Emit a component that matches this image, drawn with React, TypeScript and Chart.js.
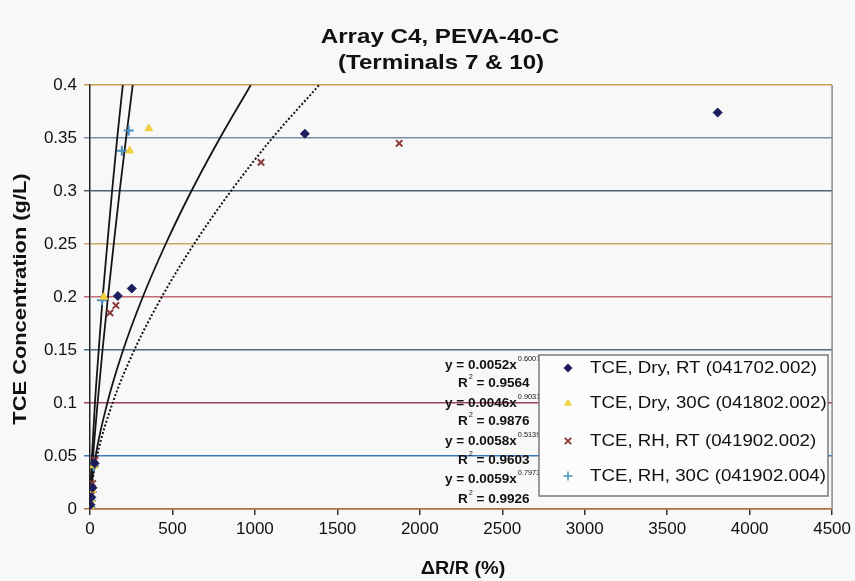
import React, { useEffect, useRef } from 'react';
import { Chart, registerables } from 'chart.js';

Chart.register(...registerables);

// ---------- data ----------
const seriesNames = [
  'TCE, Dry, RT (041702.002)',
  'TCE, Dry, 30C (041802.002)',
  'TCE, RH, RT (041902.002)',
  'TCE, RH, 30C (041902.004)',
];

const dryRtX = [3, 8, 15, 28, 169, 253, 1303, 3806];
const dryRtY = [0.004, 0.011, 0.02, 0.043, 0.201, 0.208, 0.354, 0.374];

const dry30X = [2, 6, 12, 25, 84, 241, 356];
const dry30Y = [0.003, 0.009, 0.018, 0.041, 0.2, 0.338, 0.359];

const rhRtX = [4, 9, 16, 30, 121, 157, 1037, 1875];
const rhRtY = [0.005, 0.013, 0.024, 0.046, 0.185, 0.192, 0.327, 0.345];

const rh30X = [2, 5, 10, 22, 72, 193, 235];
const rh30Y = [0.002, 0.008, 0.016, 0.04, 0.197, 0.338, 0.357];

// trendline traces (x at each concentration level)
const trendLevels = [0, 0.01, 0.02, 0.05, 0.1, 0.15, 0.2, 0.25, 0.3, 0.35, 0.4];
const trendDryRtX = [0, 3, 9.4, 43, 137, 269, 435, 631, 855, 1106, 1390];
const trendDry30X = [0, 2.6, 6.1, 19, 46, 76, 109, 144, 180, 219, 259];
const trendRhRtX = [0, 2.6, 7.8, 34, 105, 201, 320, 459, 615, 788, 975];
const trendRh30X = [0, 1.4, 3.5, 12, 30, 53, 77, 105, 134, 165, 199];

const eqCoef = ['0.0052', '0.0046', '0.0058', '0.0059'];
const eqExp = ['0.6007', '0.9031', '0.5139', '0.7973'];
const eqR2 = ['0.9564', '0.9876', '0.9603', '0.9926'];

const xTickValues = [0, 500, 1000, 1500, 2000, 2500, 3000, 3500, 4000, 4500];
const xTickLabels = ['0', '500', '1000', '1500', '2000', '2500', '3000', '3500', '4000', '4500'];
const yTickValues = [0, 0.05, 0.1, 0.15, 0.2, 0.25, 0.3, 0.35, 0.4];
const yTickLabels = ['0', '0.05', '0.1', '0.15', '0.2', '0.25', '0.3', '0.35', '0.4'];

const titleLines = ['Array C4, PEVA-40-C', '(Terminals 7 & 10)'];
const xTitle = 'ΔR/R (%)';
const yTitle = 'TCE Concentration (g/L)';

// ---------- styles ----------
const FONT = '"Liberation Sans", Arial, sans-serif';
const yGridColors = ['#b07040', '#3a78c0', '#a04060', '#4a6a80', '#c06a78', '#c8a868', '#506070', '#7a8ea8', '#c8a050'];
const markerColors = ['#1d1d5e', '#f0d040', '#8a3a3a', '#4b8fc0'];
const markerStyles = ['rectRot', 'triangle', 'crossRot', 'cross'];

const zip = (xs: number[], ys: number[]) => xs.map((x, i) => ({ x, y: ys[i] }));

function drawMarker(ctx: CanvasRenderingContext2D, style: string, color: string, x: number, y: number, r: number) {
  ctx.save();
  ctx.fillStyle = color;
  ctx.strokeStyle = color;
  ctx.lineWidth = 2;
  ctx.beginPath();
  if (style === 'rectRot') {
    ctx.moveTo(x, y - r); ctx.lineTo(x + r, y); ctx.lineTo(x, y + r); ctx.lineTo(x - r, y); ctx.closePath(); ctx.fill();
  } else if (style === 'triangle') {
    ctx.moveTo(x, y - r); ctx.lineTo(x + r * 0.9, y + r * 0.6); ctx.lineTo(x - r * 0.9, y + r * 0.6); ctx.closePath(); ctx.fill();
  } else if (style === 'crossRot') {
    const d = r * 0.7;
    ctx.moveTo(x - d, y - d); ctx.lineTo(x + d, y + d); ctx.moveTo(x + d, y - d); ctx.lineTo(x - d, y + d); ctx.stroke();
  } else {
    ctx.lineWidth = 1.5;
    ctx.moveTo(x - r, y); ctx.lineTo(x + r, y); ctx.moveTo(x, y - r); ctx.lineTo(x, y + r); ctx.stroke();
  }
  ctx.restore();
}

function sText(ctx: CanvasRenderingContext2D, text: string, x: number, y: number, sx: number) {
  ctx.save();
  ctx.translate(x, y);
  ctx.scale(sx, 1);
  ctx.fillText(text, 0, 0);
  ctx.restore();
  return ctx.measureText(text).width * sx;
}

const decor = {
  id: 'decor',
  beforeDraw(chart: any) {
    const ctx = chart.ctx as CanvasRenderingContext2D;
    ctx.save();
    ctx.fillStyle = '#f8f8f8';
    ctx.fillRect(0, 0, chart.width, chart.height);
    ctx.restore();
  },
  beforeDatasetsDraw(chart: any) {
    const ctx = chart.ctx as CanvasRenderingContext2D;
    const a = chart.chartArea;
    ctx.save();
    ctx.strokeStyle = '#8a8a8a';
    ctx.lineWidth = 1.5;
    ctx.beginPath();
    ctx.moveTo(a.right, a.top);
    ctx.lineTo(a.right, a.bottom);
    ctx.stroke();
    ctx.restore();
  },
  afterDatasetsDraw(chart: any) {
    const ctx = chart.ctx as CanvasRenderingContext2D;
    ctx.save();
    ctx.fillStyle = '#111';
    ctx.textBaseline = 'middle';
    ctx.textAlign = 'left';
    const eqY = [365, 403, 441, 479];
    const r2Y = [383, 421, 460, 499];
    const BASE = `bold 13px ${FONT}`;
    const SUP = `7px ${FONT}`;
    for (let i = 0; i < 4; i++) {
      ctx.font = BASE;
      let w = sText(ctx, `y = ${eqCoef[i]}x`, 445, eqY[i], 1.04);
      ctx.font = SUP;
      sText(ctx, eqExp[i], 445 + w + 1, eqY[i] - 6, 1.05);
      ctx.font = BASE;
      w = sText(ctx, 'R', 458, r2Y[i], 1.04);
      ctx.font = SUP;
      const w2 = sText(ctx, '2', 458 + w + 1, r2Y[i] - 6, 1.05);
      ctx.font = BASE;
      sText(ctx, ` = ${eqR2[i]}`, 458 + w + w2 + 1, r2Y[i], 1.04);
    }
    // legend
    ctx.fillStyle = '#fcfcfc';
    ctx.strokeStyle = '#7a7a7a';
    ctx.lineWidth = 1.5;
    ctx.fillRect(539, 355, 289, 141);
    ctx.strokeRect(539, 355, 289, 141);
    const rowY = [368, 403, 441, 476];
    ctx.font = `17px ${FONT}`;
    for (let i = 0; i < 4; i++) {
      drawMarker(ctx, markerStyles[i], markerColors[i], 568, rowY[i], 4.5);
      ctx.fillStyle = '#111';
      sText(ctx, seriesNames[i], 590, rowY[i], 1.1);
    }
    ctx.restore();
  },
  afterDraw(chart: any) {
    const ctx = chart.ctx as CanvasRenderingContext2D;
    ctx.save();
    ctx.fillStyle = '#111';
    ctx.textBaseline = 'middle';
    ctx.textAlign = 'center';
    ctx.font = `bold 21px ${FONT}`;
    sText(ctx, titleLines[0], 440, 37, 1.15);
    sText(ctx, titleLines[1], 441, 63, 1.15);
    ctx.font = `bold 18px ${FONT}`;
    sText(ctx, xTitle, 463, 569, 1.1);
    ctx.save();
    ctx.translate(21, 299);
    ctx.rotate(-Math.PI / 2);
    ctx.scale(1.15, 1);
    ctx.font = `bold 19px ${FONT}`;
    ctx.fillText(yTitle, 0, 0);
    ctx.restore();
    ctx.restore();
  },
};

export default function App() {
  const ref = useRef<HTMLCanvasElement | null>(null);
  useEffect(() => {
    if (!ref.current) return;
    const trend = (xs: number[], dashed: boolean) => ({
      data: zip(xs, trendLevels),
      showLine: true,
      pointRadius: 0,
      borderColor: '#151515',
      borderWidth: dashed ? 2 : 1.8,
      borderDash: dashed ? [2, 2] : [],
      cubicInterpolationMode: 'monotone',
      fill: false,
    });
    const scatter = (i: number, xs: number[], ys: number[]) => ({
      label: seriesNames[i],
      data: zip(xs, ys),
      showLine: false,
      pointStyle: markerStyles[i],
      pointRadius: i === 3 ? 5 : 4.5,
      pointBorderWidth: i >= 2 ? 2 : 1,
      backgroundColor: markerColors[i],
      borderColor: markerColors[i],
    });
    const chart = new Chart(ref.current, {
      type: 'scatter',
      data: {
        datasets: [
          scatter(0, dryRtX, dryRtY),
          scatter(1, dry30X, dry30Y),
          scatter(2, rhRtX, rhRtY),
          scatter(3, rh30X, rh30Y),
          trend(trendDryRtX, true),
          trend(trendDry30X, false),
          trend(trendRhRtX, false),
          trend(trendRh30X, false),
        ] as any,
      },
      options: {
        animation: false,
        responsive: false,
        devicePixelRatio: 1,
        layout: { padding: { top: 85, right: 21, left: 0, bottom: 0 } },
        plugins: { legend: { display: false }, title: { display: false }, tooltip: { enabled: false } },
        scales: {
          x: {
            type: 'linear',
            min: 0,
            max: 4500,
            afterBuildTicks: (s: any) => { s.ticks = xTickValues.map((v) => ({ value: v })); },
            afterFit: (s: any) => { s.height = 72; },
            ticks: {
              callback: (_v: any, i: number) => xTickLabels[i],
              color: '#111',
              font: { size: 17, family: FONT },
              padding: 4,
              maxRotation: 0,
              autoSkip: false,
            },
            grid: { drawOnChartArea: false, drawTicks: true, tickLength: 6, color: '#333', lineWidth: 1.5 },
            border: { display: true, color: '#b07040', width: 1.5 },
          },
          y: {
            type: 'linear',
            min: 0,
            max: 0.4,
            afterBuildTicks: (s: any) => { s.ticks = yTickValues.map((v) => ({ value: v })); },
            afterFit: (s: any) => { s.width = 90; },
            ticks: {
              callback: (_v: any, i: number) => yTickLabels[i],
              color: '#111',
              font: { size: 17, family: FONT },
              padding: 7,
              autoSkip: false,
            },
            grid: {
              color: (c: any) => yGridColors[c.index] || '#888',
              lineWidth: 1.5,
              drawTicks: true,
              tickLength: 6,
            },
            border: { display: true, color: '#222', width: 1.5 },
          },
        },
      } as any,
      plugins: [decor],
    });
    return () => chart.destroy();
  }, []);
  return (
    <div style={{ position: 'absolute', left: 0, top: 0, width: 855, height: 581, background: '#f8f8f8' }}>
      <canvas ref={ref} width={855} height={581} style={{ display: 'block', width: 855, height: 581 }} />
    </div>
  );
}
